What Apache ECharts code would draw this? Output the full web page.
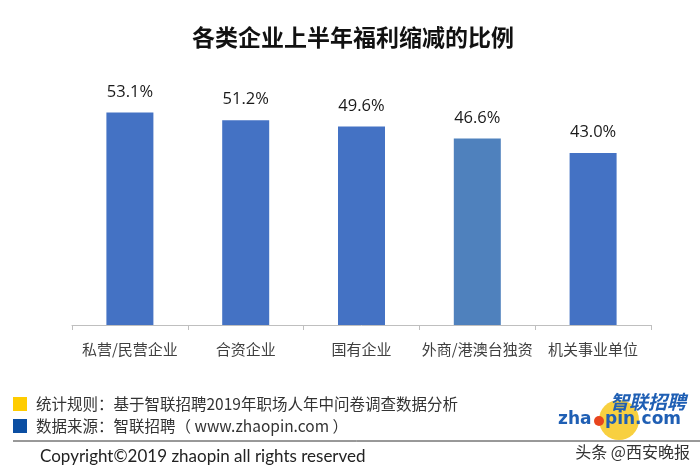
<!DOCTYPE html>
<html>
<head>
<meta charset="utf-8">
<script src="https://cdn.jsdelivr.net/npm/echarts@6/dist/echarts.min.js"></script>
<style>
html,body{margin:0;padding:0;background:#fff;}
#main{width:700px;height:474px;}
</style>
</head>
<body>
<div id="main"></div>
<script>
var titleText = '各类企业上半年福利缩减的比例';
var categories = ['私营/民营企业', '合资企业', '国有企业', '外商/港澳台独资', '机关事业单位'];
var values = [53.1, 51.2, 49.6, 46.6, 43.0];
var barColors = ['#4472C4', '#4472C4', '#4472C4', '#4F81BD', '#4472C4'];
var note1 = '统计规则：基于智联招聘2019年职场人年中问卷调查数据分析';
var note2 = '数据来源：智联招聘（ www.zhaopin.com ）';
var copyright = 'Copyright©2019 zhaopin all rights reserved';
var watermark = '头条 @西安晚报';

var cjk = '"Noto Sans CJK SC", "Noto Sans", sans-serif';
var chart = echarts.init(document.getElementById('main'), null, {renderer: 'canvas'});
chart.setOption({
  backgroundColor: '#fff',
  animation: false,
  title: {
    text: titleText,
    left: 348, top: 21, textAlign: 'center',
    textStyle: {fontFamily: cjk, fontSize: 23, fontWeight: 'bold', color: '#111'}
  },
  grid: {left: 72, right: 49, top: 85, bottom: 149},
  xAxis: {
    type: 'category',
    data: categories,
    axisLine: {lineStyle: {color: '#bfbfbf', width: 1}},
    axisTick: {show: true, length: 5, lineStyle: {color: '#bfbfbf'}},
    axisLabel: {interval: 0, fontFamily: cjk, fontSize: 15, color: '#404040', margin: 17}
  },
  yAxis: {
    type: 'value', min: 0, max: 60, show: false,
    splitLine: {show: false}
  },
  series: [{
    type: 'bar',
    barWidth: 47,
    data: values.map(function (v, i) { return {value: v, itemStyle: {color: barColors[i]}}; }),
    label: {
      show: true, position: 'top', distance: 12,
      formatter: function (p) { return p.value.toFixed(1) + '%'; },
      fontFamily: '"Open Sans", "Noto Sans", sans-serif', fontSize: 16.5, color: '#1a1a1a'
    }
  }],
  graphic: [
    {type: 'rect', shape: {x: 13, y: 397, width: 14, height: 14}, style: {fill: '#FFCC00'}},
    {type: 'rect', shape: {x: 13, y: 419, width: 14, height: 14}, style: {fill: '#0B4EA2'}},
    {type: 'text', x: 36, y: 404, style: {text: note1, font: '15.5px ' + cjk, fill: '#333', textVerticalAlign: 'middle'}},
    {type: 'text', x: 36, y: 426, style: {text: note2, font: '15.5px ' + cjk, fill: '#333', textVerticalAlign: 'middle'}},
    {type: 'line', shape: {x1: 13, y1: 441, x2: 700, y2: 441}, style: {stroke: '#333', lineWidth: 1}},
    {type: 'text', x: 40, y: 457, style: {text: copyright, font: '17px Lato, "Noto Sans", sans-serif', fill: '#222', textVerticalAlign: 'middle'}},
    {type: 'circle', shape: {cx: 619, cy: 420, r: 20}, style: {fill: '#F7C81E', opacity: 0.85}},
    {type: 'text', x: 686, y: 402, style: {text: '智联招聘', font: 'italic bold 19px ' + cjk, fill: '#1F5FB4', textAlign: 'right', textVerticalAlign: 'middle'}},
    {type: 'text', x: 558, y: 420, style: {text: 'zha', font: 'bold 17px "DejaVu Sans", sans-serif', fill: '#1F5FB4', textVerticalAlign: 'middle'}},
    {type: 'circle', shape: {cx: 599, cy: 421, r: 5}, style: {fill: '#E8451E'}},
    {type: 'text', x: 605, y: 420, style: {text: 'pin.com', font: 'bold 17px "DejaVu Sans", sans-serif', fill: '#1F5FB4', textVerticalAlign: 'middle'}},
    {type: 'text', x: 690, y: 452, style: {text: watermark, font: '16px ' + cjk, fill: '#333', textAlign: 'right', textVerticalAlign: 'middle'}}
  ]
});
</script>
</body>
</html>
